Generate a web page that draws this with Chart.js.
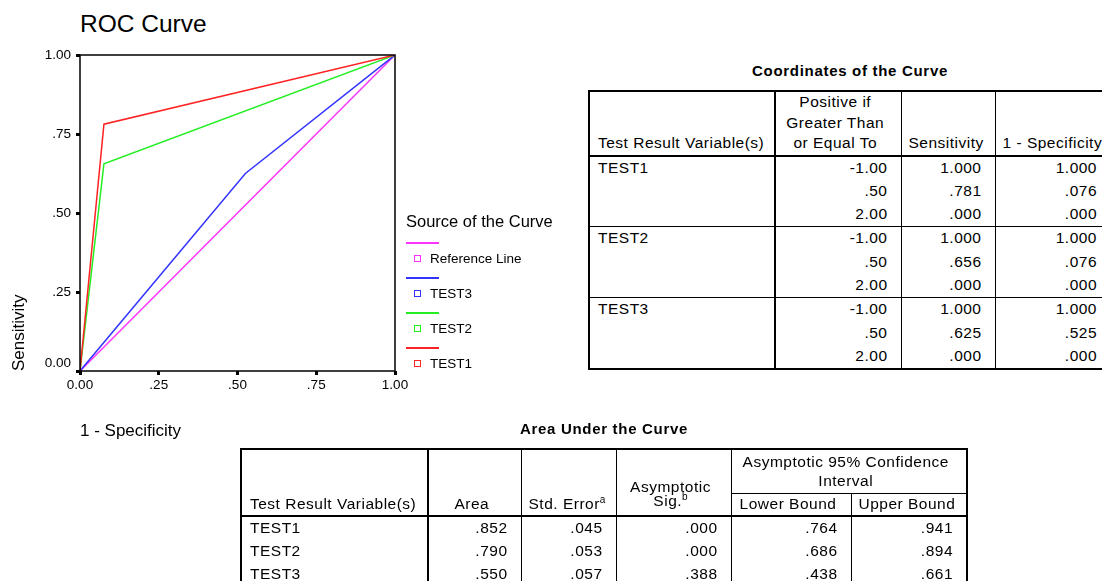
<!DOCTYPE html>
<html lang="en">
<head>
<meta charset="UTF-8">
<title>ROC Curve</title>
<style>
    html, body {
        margin: 0;
        padding: 0;
        width: 1102px;
        height: 581px;
        overflow: hidden;
        background: #fff;
        color: #000;
        font-family: "Liberation Sans", Arial, sans-serif;
    }
    #rocTitle {
        position: absolute;
        left: 80px;
        top: 12px;
        font-size: 24.5px;
        line-height: 1;
    }
    #chartBox {
        position: absolute;
        left: 0;
        top: 0;
    }
    .legend-title {
        position: absolute;
        left: 406px;
        top: 212.7px;
        font-size: 16.5px;
        line-height: 1;
        white-space: nowrap;
    }
    .legend-line {
        position: absolute;
        left: 406px;
        width: 33px;
        height: 1.5px;
    }
    .legend-box {
        position: absolute;
        left: 414px;
        width: 7px;
        height: 7px;
        box-sizing: border-box;
        border: 1.5px solid;
    }
    .legend-text {
        position: absolute;
        left: 430px;
        font-size: 13.5px;
        line-height: 1;
        white-space: nowrap;
    }
    .tbl-title {
        position: absolute;
        text-align: center;
        font-weight: bold;
        font-size: 15px;
        letter-spacing: 0.7px;
        line-height: 1;
    }
    table.spss {
        position: absolute;
        border-collapse: collapse;
        table-layout: fixed;
        font-size: 15.5px;
        letter-spacing: 0.5px;
        border: 2px solid #000;
    }
    .spss th, .spss td {
        padding: 0 13px 0 7px;
        white-space: nowrap;
        overflow: hidden;
        font-weight: normal;
    }
    .spss th {
        text-align: center;
        vertical-align: bottom;
        line-height: 20.5px;
        border: 1px solid #000;
        padding-bottom: 1px;
    }
    .spss thead tr:last-child th, .spss th.tall {
        border-bottom: 2px solid #000;
    }
    .spss td {
        text-align: right;
        vertical-align: top;
        border-left: 1px solid #000;
        border-right: 1px solid #000;
        padding-top: 0;
    }
    #coordTable td {
        height: 23.33px;
        line-height: 21.5px;
    }
    #aucTable td {
        height: 23px;
        line-height: 22px;
    }
    .spss .rowhead {
        text-align: left;
        vertical-align: top;
        border-right: 2px solid #000;
        padding-left: 8px;
    }
    .spss tr.grp td {
        border-top: 1px solid #000;
    }
    .spss sup {
        font-size: 10px;
        line-height: 0;
        vertical-align: 6px;
        letter-spacing: 0;
    }
    .spss th.sig {
        line-height: 14px;
        padding-bottom: 7px;
    }
</style>
</head>
<body>
    <div id="rocTitle">ROC Curve</div>
    <canvas id="chartBox" width="420" height="445"></canvas>
    <div id="legend"></div>

    <div class="tbl-title" style="left:589px; top:62.7px; width:522px;">Coordinates of the Curve</div>
    <table class="spss" id="coordTable" style="left:588px; top:90px; width:522px;">
        <colgroup>
            <col style="width:186px"><col style="width:126px"><col style="width:94px"><col style="width:116px">
        </colgroup>
        <thead>
            <tr style="height:63px">
                <th class="rowhead" style="vertical-align:bottom">Test Result Variable(s)</th>
                <th>Positive if<br>Greater Than<br>or Equal To</th>
                <th>Sensitivity</th>
                <th>1 - Specificity</th>
            </tr>
        </thead>
        <tbody id="coordBody"></tbody>
    </table>

    <div class="tbl-title" style="left:241px; top:420.7px; width:726px;">Area Under the Curve</div>
    <table class="spss" id="aucTable" style="left:240px; top:448px; width:726px;">
        <colgroup>
            <col style="width:187px"><col style="width:93px"><col style="width:95px"><col style="width:115px"><col style="width:120px"><col style="width:116px">
        </colgroup>
        <thead>
            <tr style="height:44px">
                <th class="rowhead tall" rowspan="2" style="vertical-align:bottom">Test Result Variable(s)</th>
                <th class="tall" rowspan="2">Area</th>
                <th class="tall" rowspan="2">Std. Error<sup>a</sup></th>
                <th class="tall sig" rowspan="2">Asymptotic<br>Sig.<sup>b</sup></th>
                <th colspan="2" style="vertical-align:middle; line-height:19px">Asymptotic 95% Confidence<br>Interval</th>
            </tr>
            <tr style="height:23px">
                <th>Lower Bound</th>
                <th>Upper Bound</th>
            </tr>
        </thead>
        <tbody id="aucBody"></tbody>
    </table>

    <script src="https://cdn.jsdelivr.net/npm/chart.js"></script>
    <script>
        // Test variables and cut-off points
        const testNames = ['TEST1', 'TEST2', 'TEST3'];
        const cutoffs = [-1.00, 0.50, 2.00];

        // Sensitivity and 1 - specificity at each cut-off
        const test1Sens = [1.000, 0.781, 0.000];
        const test1Fpr  = [1.000, 0.076, 0.000];
        const test2Sens = [1.000, 0.656, 0.000];
        const test2Fpr  = [1.000, 0.076, 0.000];
        const test3Sens = [1.000, 0.625, 0.000];
        const test3Fpr  = [1.000, 0.525, 0.000];

        // Diagonal reference line
        const refLineX = [0, 1];
        const refLineY = [0, 1];

        // Area under the curve
        const aucArea   = [0.852, 0.790, 0.550];
        const aucStdErr = [0.045, 0.053, 0.057];
        const aucSig    = [0.000, 0.000, 0.388];
        const aucLower  = [0.764, 0.686, 0.438];
        const aucUpper  = [0.941, 0.894, 0.661];

        // Axis ticks
        const axisTickValues = [0, 0.25, 0.5, 0.75, 1];
        const axisTickLabels = ['0.00', '.25', '.50', '.75', '1.00'];

        // Legend order, top to bottom
        const legendNames = ['Reference Line', 'TEST3', 'TEST2', 'TEST1'];

        const curveColors = {
            'Reference Line': '#ff33ff',
            'TEST3': '#3333ff',
            'TEST2': '#22ee22',
            'TEST1': '#ff2222'
        };

        const sensByTest = [test1Sens, test2Sens, test3Sens];
        const fprByTest = [test1Fpr, test2Fpr, test3Fpr];

        // SPSS style numbers: leading zero dropped
        function spss(v, digits) {
            let s = v.toFixed(digits);
            if (Math.abs(v) < 1) s = s.replace(/^(-?)0\./, '$1.');
            return s;
        }

        function toPoints(xs, ys) {
            return xs.map((x, i) => ({ x: x, y: ys[i] }));
        }

        // Coordinates table
        let rows = '';
        testNames.forEach((name, t) => {
            cutoffs.forEach((c, i) => {
                rows += '<tr' + (i === 0 ? ' class="grp"' : '') + '>';
                if (i === 0) rows += '<td class="rowhead" rowspan="3">' + name + '</td>';
                rows += '<td>' + spss(c, 2) + '</td>';
                rows += '<td>' + spss(sensByTest[t][i], 3) + '</td>';
                rows += '<td>' + spss(fprByTest[t][i], 3) + '</td></tr>';
            });
        });
        document.getElementById('coordBody').innerHTML = rows;

        // Area under the curve table
        rows = '';
        testNames.forEach((name, t) => {
            rows += '<tr><td class="rowhead">' + name + '</td>';
            [aucArea, aucStdErr, aucSig, aucLower, aucUpper].forEach(col => {
                rows += '<td>' + spss(col[t], 3) + '</td>';
            });
            rows += '</tr>';
        });
        document.getElementById('aucBody').innerHTML = rows;

        // Legend: line sample with a small square below it
        let legendHtml = '<div class="legend-title">Source of the Curve</div>';
        legendNames.forEach((name, i) => {
            const y = 242 + i * 35;
            const col = curveColors[name];
            legendHtml += '<div class="legend-line" style="top:' + y + 'px; background:' + col + '"></div>';
            legendHtml += '<div class="legend-box" style="top:' + (y + 13) + 'px; border-color:' + col + '"></div>';
            legendHtml += '<div class="legend-text" style="top:' + (y + 10) + 'px">' + name + '</div>';
        });
        document.getElementById('legend').innerHTML = legendHtml;

        Chart.defaults.font.family = '"Liberation Sans", Arial, sans-serif';
        Chart.defaults.color = '#000';

        // box round the plot area
        const framePlugin = {
            id: 'frame',
            afterDatasetsDraw(chart) {
                const { ctx, chartArea: a } = chart;
                ctx.save();
                ctx.strokeStyle = '#000';
                ctx.lineWidth = 1.5;
                ctx.strokeRect(a.left, a.top, a.right - a.left, a.bottom - a.top);
                ctx.restore();
            }
        };

        function axisOptions(titleText, titlePadding, fit) {
            return {
                type: 'linear',
                min: 0,
                max: 1,
                afterBuildTicks: s => { s.ticks = axisTickValues.map(v => ({ value: v })); },
                afterFit: fit,
                ticks: {
                    callback: (v, i) => axisTickLabels[i],
                    font: { size: 13.5 },
                    color: '#000',
                    maxRotation: 0,
                    autoSkip: false
                },
                grid: {
                    drawOnChartArea: false,
                    drawTicks: true,
                    tickLength: 4,
                    lineWidth: 3,
                    color: '#000'
                },
                border: { display: false },
                title: {
                    display: true,
                    text: titleText,
                    align: 'start',
                    color: '#000',
                    font: { size: 17 },
                    padding: titlePadding
                }
            };
        }

        const xAxis = axisOptions('1 - Specificity', { top: 0, bottom: 3 }, s => { s.height = 74; });
        xAxis.ticks.padding = 2;
        const yAxis = axisOptions('Sensitivity', { top: 9, bottom: 0 }, s => { s.width = 80; });
        yAxis.ticks.padding = 5;
        // lift the bottom y label clear of the x labels
        yAxis.ticks.callback = (v, i) => (i === 0 ? [axisTickLabels[i], ''] : axisTickLabels[i]);

        const curve = (name, xs, ys) => ({
            label: name,
            data: toPoints(xs, ys),
            showLine: true,
            borderColor: curveColors[name],
            backgroundColor: curveColors[name],
            borderWidth: 1.5,
            pointRadius: 0,
            tension: 0
        });

        new Chart(document.getElementById('chartBox'), {
            type: 'scatter',
            data: {
                datasets: [
                    curve('TEST1', test1Fpr, test1Sens),
                    curve('TEST2', test2Fpr, test2Sens),
                    curve('TEST3', test3Fpr, test3Sens),
                    curve('Reference Line', refLineX, refLineY)
                ]
            },
            options: {
                responsive: false,
                animation: false,
                layout: {
                    padding: { top: 55, right: 25, bottom: 0, left: 0 },
                    autoPadding: false
                },
                plugins: {
                    legend: { display: false },
                    tooltip: { enabled: false }
                },
                scales: { x: xAxis, y: yAxis }
            },
            plugins: [framePlugin]
        });
    </script>
</body>
</html>
